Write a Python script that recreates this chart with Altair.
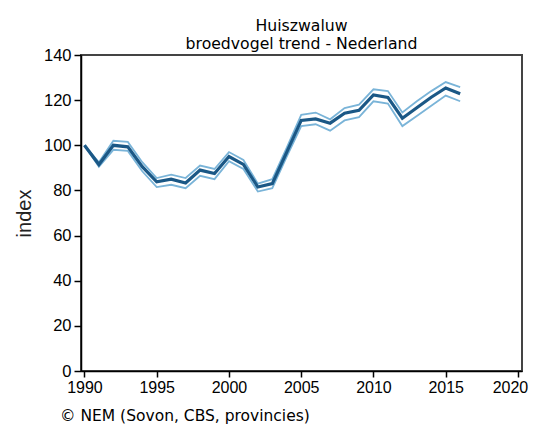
import altair as alt
import pandas as pd

years = list(range(1990, 2017))
index_vals = [100, 91.5, 100, 99.3, 90.5, 83.8, 85, 83.3, 89, 87.5, 95, 91.5, 81.5, 83,
              97, 111, 111.7, 109.8, 114.2, 115.5, 122.3, 121.2, 112, 116.6, 121.3, 125.4, 122.8]
upper_vals = [100, 92.5, 102, 101.5, 92.5, 85.5, 87, 85.5, 91, 89.5, 97, 93.5, 83, 85,
              99, 113.5, 114.5, 111.5, 116.5, 118, 124.8, 124, 114.5, 119.5, 124, 128, 125.8]
lower_vals = [100, 90.5, 98, 97.5, 88.5, 81.5, 82.5, 81, 86.5, 85, 93, 89.5, 79.5, 81,
              95, 108.5, 109.3, 106.5, 111, 112.5, 119.5, 118.5, 108.5, 113, 117.5, 122, 119.5]
x_ticks = [1990, 1995, 2000, 2005, 2010, 2015, 2020]
y_ticks = [0, 20, 40, 60, 80, 100, 120, 140]
title_lines = ["Huiszwaluw", "broedvogel trend - Nederland"]
footer = "© NEM (Sovon, CBS, provincies)"

df = pd.DataFrame({"year": years, "index": index_vals, "upper": upper_vals, "lower": lower_vals})

xscale = alt.Scale(domain=[1989.76, 2020.28], nice=False, zero=False)
yscale = alt.Scale(domain=[0, 140], nice=False)

xaxis = alt.Axis(values=x_ticks, format="d", title=None, grid=False, tickSize=6,
                 labelPadding=2, labelFont="Liberation Sans", labelFontSize=16,
                 labelColor="#000", domainColor="#000", tickColor="#000",
                 domainWidth=1.5, tickWidth=1.5, labelFlush=False,
                 labelOffset=alt.expr("datum.value == 2020 ? -8 : 0"))
yaxis = alt.Axis(values=y_ticks, title="index", grid=False, tickSize=7, labelPadding=3,
                 labelFont="Liberation Sans", labelFontSize=16.5, labelColor="#000",
                 titleFont="Liberation Sans", titleFontSize=20, titleFontWeight="normal",
                 titleColor="#222", titlePadding=9, domainColor="#000", tickColor="#000",
                 domainWidth=1.5, tickWidth=1.5)

base = alt.Chart(df)
light = "#7ab4d8"
dark = "#1b5886"

upper = base.mark_line(color=light, strokeWidth=1.8, clip=True).encode(
    x=alt.X("year:Q", scale=xscale, axis=xaxis),
    y=alt.Y("upper:Q", scale=yscale, axis=yaxis),
)
lower = base.mark_line(color=light, strokeWidth=1.8, clip=True).encode(
    x=alt.X("year:Q", scale=xscale),
    y=alt.Y("lower:Q", scale=yscale),
)
main = base.mark_line(color=dark, strokeWidth=3.2, clip=True).encode(
    x=alt.X("year:Q", scale=xscale),
    y=alt.Y("index:Q", scale=yscale),
)
foot = alt.Chart(pd.DataFrame({"t": [footer]})).mark_text(
    font="DejaVu Sans", fontSize=15.5, align="left", baseline="middle", color="#000"
).encode(text="t:N", x=alt.value(-21), y=alt.value(360.5))

chart = alt.layer(upper, lower, main, foot).properties(
    width=441, height=316,
    autosize=alt.AutoSizeParams(type="none"),
    padding={"left": 73, "top": 47, "right": 9, "bottom": 53},
    title=alt.TitleParams(text=title_lines, font="DejaVu Sans", fontSize=15.7,
                          fontWeight="normal", color="#000", anchor="middle",
                          frame="group", offset=-6, lineHeight=18),
).configure_view(stroke="#444", strokeWidth=2)

chart.save("out.html", embed_options={"renderer": "svg", "actions": False})
